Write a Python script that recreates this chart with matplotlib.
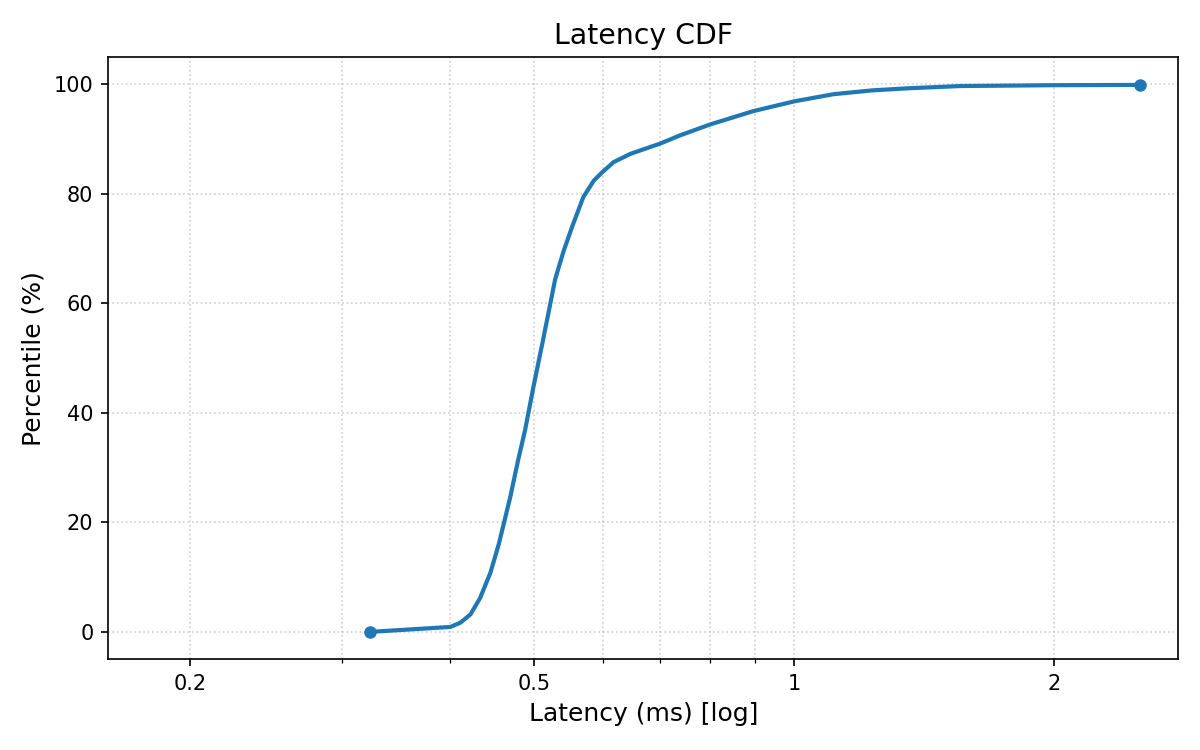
import matplotlib
matplotlib.use("Agg")
import matplotlib.pyplot as plt
from matplotlib.ticker import FixedLocator, FixedFormatter, LogLocator, NullFormatter

# Data (latency in ms, percentile)
latency_ms = [0.323, 0.400, 0.411, 0.422, 0.433, 0.445, 0.455, 0.469, 0.479, 0.488,
              0.499, 0.512, 0.529, 0.541, 0.553, 0.570, 0.586, 0.600, 0.618, 0.646,
              0.700, 0.738, 0.800, 0.896, 1.000, 1.110, 1.230, 1.360, 1.560, 2.000,
              2.510]
percentile = [0, 0.9, 1.7, 3.2, 6.2, 10.8, 16.0, 24.5, 31.3, 36.8,
              44.7, 53.3, 64.5, 69.6, 73.9, 79.4, 82.4, 84.0, 85.8, 87.3,
              89.2, 90.7, 92.7, 95.1, 96.9, 98.2, 98.9, 99.3, 99.7, 99.85,
              99.9]
xticks = [0.2, 0.5, 1, 2]
xtick_labels = ["0.2", "0.5", "1", "2"]

fig, ax = plt.subplots(figsize=(8, 5), dpi=150)
fig.subplots_adjust(left=0.09, right=0.982, top=0.924, bottom=0.121)

ax.plot(latency_ms, percentile, color="#1f77b4", linewidth=2, marker="o",
        markersize=5, markevery=[0, len(latency_ms) - 1])
ax.set_xscale("log")
ax.set_xlim(0.1606, 2.784)
ax.set_ylim(-5, 105)

ax.xaxis.set_major_locator(FixedLocator(xticks))
ax.xaxis.set_major_formatter(FixedFormatter(xtick_labels))
ax.xaxis.set_minor_locator(LogLocator(base=10, subs=[2, 3, 4, 5, 6, 7, 8, 9]))
ax.xaxis.set_minor_formatter(NullFormatter())

ax.grid(True, which="both", linestyle=":", linewidth=0.8, color="#b0b0b0", alpha=0.6)

ax.set_title("Latency CDF", fontsize=13.6)
ax.set_xlabel("Latency (ms) [log]", fontsize=12)
ax.set_ylabel("Percentile (%)", fontsize=12)

fig.savefig("out.png", dpi=150)
